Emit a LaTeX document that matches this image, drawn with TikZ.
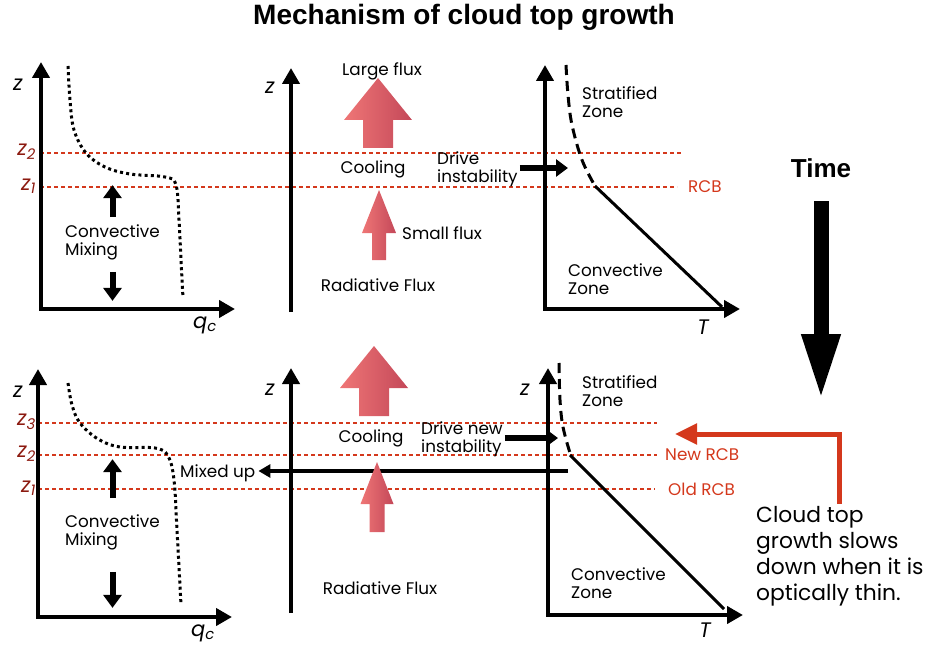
\documentclass[tikz,border=0pt]{standalone}
\usepackage{fontspec}
\setmainfont{Poppins}
\newfontfamily\titlefont{Liberation Sans}
\usetikzlibrary{arrows.meta,positioning}

\definecolor{rcbred}{HTML}{D4381C}
\definecolor{levelred}{HTML}{8C1A10}
\definecolor{fluxlight}{HTML}{EF7676}
\definecolor{fluxdark}{HTML}{C44859}

\begin{document}
\begin{tikzpicture}[
        x=1pt, y=-1pt,
        axis pair/.style={line width=4.2pt, line join=miter,
            {Triangle[length=16pt,width=17pt]}-{Triangle[length=16pt,width=17pt]}},
        axis/.style={line width=4.2pt, -{Triangle[length=16pt,width=17pt]}},
        level line/.style={rcbred, line width=1.4pt, dash pattern=on 4pt off 3pt},
        level label/.style={levelred, font=\fontsize{21}{21}\selectfont\itshape, anchor=east, inner sep=1pt},
        axis label/.style={font=\fontsize{21}{21}\selectfont\itshape, inner sep=1pt},
        body/.style={font=\fontsize{16.8}{18}\selectfont, align=left, inner sep=0pt},
        rcb/.style={rcbred, font=\fontsize{16.8}{18}\selectfont, anchor=west, inner sep=0pt},
        mixing arrow/.style={line width=6pt, -{Triangle[length=13pt,width=18pt]}},
        push arrow/.style={line width=6pt, -{Triangle[length=12pt,width=17pt]}},
        cloud curve/.style={line width=3pt, dash pattern=on 3pt off 3.2pt},
        lapse/.style={line width=3pt},
        flux/.style={left color=fluxlight, right color=fluxdark},
    ]
    \useasboundingbox (0,0) rectangle (928,647);

    % Title and time
    \node[font=\titlefont\bfseries\fontsize{28}{28}\selectfont] (title) at (464,17) {Mechanism of cloud top growth};
    \node[font=\titlefont\bfseries\fontsize{26}{26}\selectfont] (time) at (821,168) {Time};
    \draw[line width=15pt, -{Triangle[length=67pt,width=35pt]}] ([yshift=-20pt]time.south) -- ++(0,200);

    % ===== Upper row =====
    % Levels
    \foreach \y/\xend in {153/683, 187/677}
        \draw[level line] (40,\y) -- (\xend,\y);
    \node[level label] (z2-a) at (37,152) {z\textsubscript{2}};
    \node[level label] (z1-a) at (37,186) {z\textsubscript{1}};
    \node[rcb] (rcb-a) at (688,187) {RCB};

    % Cloud water profile
    \draw[axis pair] (41,62) -- (41,309) -- (235,309);
    \node[axis label] (z-a) at (18,85) {z};
    \node[axis label] (qc-a) at (205,325) {q\textsubscript{c}};
    \draw[cloud curve] plot[smooth, tension=0.6] coordinates
        {(68,66) (70,100) (74,130) (86,153) (105,167) (130,174) (165,177) (176,185) (179,220) (181,260) (183,298)};
    \node[body, anchor=west] (mix-a) at (65,242) {Convective\\Mixing};
    \draw[mixing arrow] ([yshift=7pt]mix-a.north) -- ++(0,-32);
    \draw[mixing arrow] ([yshift=-12pt]mix-a.south) -- ++(0,29);

    % Radiation
    \draw[axis] (291,312) -- (291,68);
    \node[axis label] (z-b) at (270,88) {z};
    \node[body] (large) at (382,71) {Large flux};
    \node[body] (cool-a) at (373,169) {Cooling};
    \node[body, anchor=west] (small) at (402,233) {Small flux};
    \node[body] (rad-a) at (378,285) {Radiative Flux};
    \node[body, anchor=west, inner sep=2pt] (drive-a) at (435,169) {Drive\\instability};
    \coordinate (drive-a tip) at (568,168);
    \draw[push arrow] (drive-a.east |- drive-a tip) -- (drive-a tip);

    % Temperature profile
    \draw[axis pair] (545,65) -- (545,309) -- (740,309);
    \node[axis label] (T-a) at (703,327) {T};
    \draw[lapse, dash pattern=on 10pt off 6pt] plot[smooth, tension=0.6] coordinates
        {(566,65) (568,95) (572,125) (582,160) (595,186)};
    \draw[lapse] (595,186) -- (722,307);
    \node[body, anchor=west] (strat-a) at (582,102) {Stratified\\Zone};
    \node[body, anchor=west] (conv-a) at (568,279) {Convective\\Zone};

    % ===== Lower row =====
    % Levels
    \foreach \y/\xend in {423/657, 455/657, 489/655}
        \draw[level line] (38,\y) -- (\xend,\y);
    \node[level label] (z3-b) at (37,422) {z\textsubscript{3}};
    \node[level label] (z2-b) at (37,454) {z\textsubscript{2}};
    \node[level label] (z1-b) at (37,488) {z\textsubscript{1}};
    \node[rcb] (rcb-new) at (665,455) {New RCB};
    \node[rcb] (rcb-old) at (668,489) {Old RCB};

    % Cloud water profile
    \draw[axis pair] (38,369) -- (38,617) -- (232,617);
    \node[axis label] (z-c) at (18,392) {z};
    \node[axis label] (qc-c) at (203,633) {q\textsubscript{c}};
    \draw[cloud curve] plot[smooth, tension=0.6] coordinates
        {(68,383) (72,405) (80,423) (98,439) (120,447) (155,448) (168,456) (174,480) (177,530) (181,605)};
    \node[body, anchor=west] (mix-b) at (65,532) {Convective\\Mixing};
    \draw[mixing arrow] ([yshift=16pt]mix-b.north) -- ++(0,-39);
    \draw[mixing arrow] ([yshift=-22pt]mix-b.south) -- ++(0,36);

    % Mixed up
    \node[body, anchor=west] (mixed) at (180,473) {Mixed up};
    \coordinate (mixed src) at (568,471);
    \draw[line width=4.5pt, -{Triangle[length=12pt,width=13pt]}] (mixed src) -- ([xshift=3pt]mixed.east |- mixed src);

    % Radiation
    \draw[axis] (291,613) -- (291,368);
    \node[axis label] (z-d) at (270,390) {z};
    \node[body] (cool-b) at (371,438) {Cooling};
    \node[body] (rad-b) at (380,588) {Radiative Flux};
    \node[body, anchor=west, inner sep=2pt] (drive-b) at (419,439) {Drive new\\instability};
    \coordinate (drive-b tip) at (558,438);
    \draw[push arrow] (drive-b.east |- drive-b tip) -- (drive-b tip);

    % Temperature profile
    \draw[axis pair] (548,368) -- (548,615) -- (743,615);
    \node[axis label] (z-e) at (525,390) {z};
    \node[axis label] (T-b) at (705,630) {T};
    \draw[lapse, dash pattern=on 10pt off 6pt] plot[smooth, tension=0.6] coordinates
        {(559,363) (560,400) (563,427) (570,453)};
    \draw[lapse] (570,455) -- (724,609);
    \node[body, anchor=west] (strat-b) at (582,391) {Stratified\\Zone};
    \node[body, anchor=west] (conv-b) at (571,583) {Convective\\Zone};

    % Flux arrows: tip x/tip y/head half width/head base/shaft half width/bottom
    \foreach \tx/\ty/\hw/\hy/\sw/\by in {378/78/34/120/15/148, 379/190/17/233/7/260,
                                         374/346/34/388/15/416, 377/462/16.5/504/7.5/532}
        \shade[flux] (\tx,\ty) -- (\tx+\hw,\hy) -- (\tx+\sw,\hy) -- (\tx+\sw,\by)
            -- (\tx-\sw,\by) -- (\tx-\sw,\hy) -- (\tx-\hw,\hy) -- cycle;

    % Slow growth note
    \node[font=\fontsize{21.8}{26}\selectfont, align=left, anchor=west, inner sep=2pt] (note) at (754,556)
        {Cloud top\\growth slows\\down when it is\\optically thin.};
    \coordinate (note tip) at (675,434);
    \draw[rcbred, line width=5pt, -{Triangle[length=22pt,width=20pt]}] (note.north) |- (note tip);
\end{tikzpicture}
\end{document}
